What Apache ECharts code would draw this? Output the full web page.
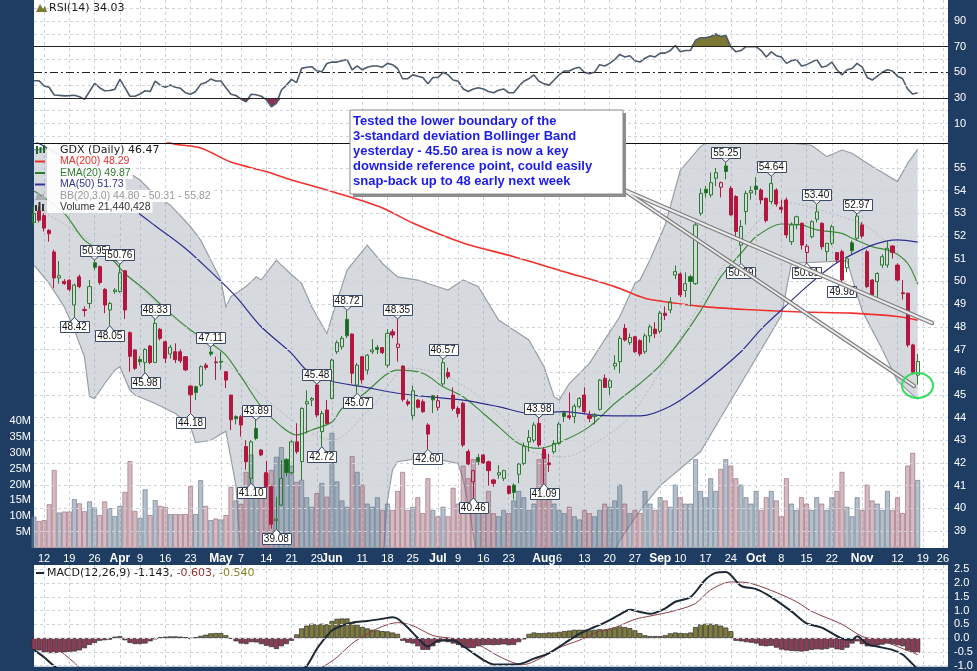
<!DOCTYPE html>
<html><head><meta charset="utf-8">
<script src="https://cdn.jsdelivr.net/npm/echarts@6/dist/echarts.min.js"></script>
<style>html,body{margin:0;padding:0;background:#1f3d63}#c{width:977px;height:671px}</style>
</head><body><div id="c"></div>
<script>
// ---------- categories ----------
const firstDay = '2012-03-08';
const holidays = ['2012-04-06','2012-05-28','2012-07-04','2012-09-03','2012-10-29','2012-10-30','2012-11-22'];
const slotCount = 182;
const tickLabels = [['2012-03-12','12'],['2012-03-19','19'],['2012-03-26','26'],['2012-04-02','Apr'],['2012-04-09','9'],['2012-04-16','16'],['2012-04-23','23'],['2012-05-01','May'],['2012-05-07','7'],['2012-05-14','14'],['2012-05-21','21'],['2012-05-29','29'],['2012-06-01','Jun'],['2012-06-11','11'],['2012-06-18','18'],['2012-06-25','25'],['2012-07-02','Jul'],['2012-07-09','9'],['2012-07-16','16'],['2012-07-23','23'],['2012-08-01','Aug'],['2012-08-06','6'],['2012-08-13','13'],['2012-08-20','20'],['2012-08-27','27'],['2012-09-04','Sep'],['2012-09-10','10'],['2012-09-17','17'],['2012-09-24','24'],['2012-10-01','Oct'],['2012-10-08','8'],['2012-10-15','15'],['2012-10-22','22'],['2012-11-01','Nov'],['2012-11-12','12'],['2012-11-19','19'],['2012-11-26','26']];
const monthNames = ['Apr','May','Jun','Jul','Aug','Sep','Oct','Nov'];

// ---------- price data (GDX daily) ----------
const opens = [52.6,53.1,52.9,52.25,51.3,50.15,50.0,50.05,48.96,50.2,
48.76,49.03,50.82,50.65,49.65,48.74,49.55,49.55,50.47,47.74,
46.98,46.56,46.43,47.15,46.43,47.89,47.34,46.8,46.9,46.9,
46.68,45.39,45.36,45.43,46.31,46.89,46.45,46.47,46.02,44.99,
44.04,44.04,42.72,41.32,43.52,42.57,41.57,40.95,39.45,40.14,
42.16,41.57,42.93,42.06,44.6,44.77,45.43,43.38,44.33,44.84,
46.9,47.12,48.33,47.68,45.43,46.68,46.09,46.9,47.09,47.08,
46.31,47.78,47.09,46.27,44.7,44.08,44.77,44.7,43.67,44.96,
44.45,45.48,45.98,44.99,44.4,44.63,42.5,41.17,42.24,42.35,
42.05,41.25,41.47,41.32,40.98,41.02,41.5,41.98,42.93,43.0,
43.74,42.6,42.0,42.49,42.86,44.21,44.08,44.04,44.48,44.99,
44.08,44.04,44.36,45.73,45.33,46.27,46.46,47.93,47.3,47.56,
47.39,46.9,47.6,47.9,47.8,48.6,48.74,50.28,50.33,49.6,
50.21,49.9,53.0,54.06,53.81,54.55,54.15,55.09,54.1,53.74,
51.6,53.08,53.9,54.2,54.03,53.66,53.52,54.03,53.27,53.59,
51.75,52.49,52.56,51.27,51.97,52.74,52.56,51.31,51.68,51.27,
51.31,50.6,51.7,51.9,52.49,51.31,50.06,49.99,50.72,50.72,
51.56,50.72,49.5,49.48,47.2,45.87];
const closes = [53.0,52.7,52.35,52.1,50.15,50.25,49.9,49.65,49.84,49.77,
48.72,49.77,50.62,49.95,48.96,49.03,49.62,50.38,48.74,46.7,
46.17,46.46,47.0,46.43,48.15,47.49,46.61,47.1,46.55,46.5,
46.1,45.0,45.1,46.24,46.21,46.8,46.42,46.44,45.65,43.9,
43.95,43.67,42.05,42.93,43.08,42.35,40.95,39.3,39.52,41.32,
41.57,42.93,42.5,44.4,44.7,44.84,44.11,44.18,43.74,46.53,
47.3,47.49,47.6,45.95,46.31,45.66,46.75,46.98,47.0,46.86,
47.71,47.64,47.24,44.8,44.6,45.18,44.45,44.26,43.27,44.78,
44.74,46.42,45.8,44.4,44.18,42.79,41.95,41.66,42.05,42.0,
41.66,41.1,41.57,41.66,40.66,40.7,41.95,42.74,43.12,43.67,
42.79,42.2,41.92,42.86,43.71,44.05,44.0,44.5,44.84,44.26,
43.96,44.14,45.65,45.33,45.62,46.39,47.49,47.42,47.53,46.9,
46.8,47.6,48.0,47.7,48.6,48.5,49.1,50.43,49.4,49.9,
50.0,52.49,53.88,53.9,54.35,54.79,54.35,54.84,52.93,52.2,
52.42,53.88,54.0,54.05,53.59,52.68,54.32,53.41,53.18,52.05,
52.49,52.85,51.6,51.55,52.63,53.07,51.53,51.68,52.41,50.94,
50.06,51.0,51.35,52.88,52.0,49.77,49.4,50.35,51.09,51.46,
51.27,50.06,49.46,47.2,46.0,46.47];
const highs = [53.3,53.3,53.0,52.3,51.4,50.9,50.1,50.1,49.9,50.3,
48.9,50.06,50.95,50.7,49.7,49.1,49.7,50.76,50.5,47.8,
47.0,46.7,47.05,47.2,48.33,47.95,47.4,47.2,47.27,47.0,
46.7,45.4,45.4,46.3,46.4,47.11,46.68,46.9,46.05,45.0,
44.1,44.1,43.0,43.0,43.89,42.6,42.1,41.0,40.5,42.13,
42.2,43.0,43.74,44.45,45.2,44.9,45.48,44.3,44.77,46.6,
47.4,47.6,48.72,47.7,46.4,46.7,46.8,47.45,47.2,47.1,
47.9,47.9,48.35,46.3,44.8,45.4,44.8,44.8,43.75,45.0,
45.0,46.57,46.2,45.33,44.5,44.7,42.6,41.7,42.4,42.4,
42.1,41.3,41.9,41.7,41.0,41.1,42.0,42.9,43.45,43.8,
43.98,42.7,42.4,43.0,43.8,44.3,45.1,44.6,44.9,45.33,
44.3,44.2,45.7,45.9,45.7,46.75,47.6,48.12,47.7,47.6,
47.45,47.7,48.1,48.2,48.7,48.9,49.3,50.7,50.4,50.4,
50.3,52.6,54.1,54.2,54.8,55.0,54.4,55.25,54.2,53.8,
52.7,54.0,54.2,54.6,54.1,53.7,54.64,54.1,53.6,53.7,
52.6,52.9,52.6,51.65,52.7,53.40,52.6,51.7,52.5,51.3,
51.4,51.1,51.8,52.97,52.6,51.4,50.1,50.4,51.2,51.8,
51.6,50.8,50.06,49.5,47.25,46.8];
const lows = [52.5,52.6,52.2,51.75,49.7,49.9,49.85,49.55,48.42,49.7,
48.45,48.8,50.5,49.85,48.6,48.05,49.45,49.5,48.35,46.02,
46.1,46.3,45.98,46.35,46.4,47.4,46.4,46.6,46.4,46.4,
46.05,44.18,44.77,45.35,46.1,46.7,45.66,46.1,45.3,43.45,
43.7,43.16,41.7,41.10,43.0,42.3,40.9,39.1,39.08,40.1,
41.4,41.5,42.4,41.25,43.3,44.5,44.0,42.72,43.7,44.8,
46.8,47.0,47.5,45.5,45.07,45.5,45.9,46.8,46.8,46.8,
46.2,47.5,46.46,44.7,44.5,43.9,44.4,44.2,42.6,44.2,
44.3,45.4,45.7,44.3,44.0,42.7,41.9,40.46,41.9,41.95,
41.0,40.95,41.3,41.2,40.6,40.4,41.1,41.9,42.5,42.9,
42.7,41.09,41.6,42.4,42.8,43.8,43.9,43.75,44.4,44.2,
43.8,43.7,44.3,45.3,45.0,46.1,45.95,47.35,47.2,46.85,
46.7,46.8,47.3,47.5,47.7,48.3,48.6,50.1,49.3,49.3,
48.9,49.85,52.9,53.7,53.7,54.2,53.7,54.5,52.9,51.9,
50.79,52.5,53.6,53.8,53.4,52.6,53.4,53.3,53.0,51.9,
51.6,52.3,51.4,50.81,51.9,52.6,51.4,50.9,51.6,50.8,
49.98,50.4,51.2,51.8,51.9,49.7,49.3,49.3,50.6,50.6,
51.0,50.0,49.2,47.1,45.9,45.45];
// volume in millions
const volumes = [9.9,8.5,8.8,13.8,24.6,11.2,11.5,11.5,15.4,14.1,
11.6,14.7,12.8,10.4,14.7,12.6,10.1,13.3,17.7,27.4,
11.7,9.5,18.5,10.4,15.1,13.3,13.0,10.7,10.7,10.7,
10.7,19.5,10.7,21.4,13.3,8.8,9.3,9.0,10.4,19.3,
15.0,13.9,24.0,29.5,16.5,16.5,23.5,24.6,28.8,31.8,
24.6,26.0,20.9,21.5,16.0,13.0,17.3,20.5,16.2,36.3,
21.0,15,13,29,24,20,14,13,16,12,
14,12,18,24,12,13,16,11,22,12,
10,13,10,19,14,26,22,28,14,12,
18,11,10,12,11,15,18,16,12,14,
28,30,18,14,12,11,13,10,9,12,
11,10,12,14,13,15,20,14,11,12,
11,18,14,12,16,15,13,20,16,14,
14,28,18,16,22,18,25,28,26,22,
20,16,14,18,12,16,18,15,10,22,
14,12,16,14,12,16,14,12,16,18,
24,13,10,16,12,20,15,14,12,18,
12,16,11,26,30,21.44];

// ---------- overlays (read at sample days: [dayIndex, value]) ----------
const ma200 = [[0,58.3],[27,56.1],[33,55.88],[39,55.26],[46,54.84],[51,54.47],[59,53.96],[69,53.24],[75,52.57],[85,51.69],[95,51.09],[105,50.43],[115,49.77],[120,49.33],[122,49.2],[132,48.9],[142,48.75],[152,48.65],[162,48.6],[171,48.45],[175,48.29]];
const ma50 = [[0,56.2],[10,54.9],[19,53.3],[24,52.45],[30,51.45],[35,50.43],[40,49.33],[45,48.0],[51,46.83],[54,46.09],[59,45.6],[65,45.36],[72,45.07],[78,44.92],[85,44.77],[92,44.48],[98,44.19],[105,44.26],[111,44.11],[120,44.07],[126,44.5],[132,45.4],[140,46.9],[144,47.9],[148,48.74],[153,49.77],[157,50.5],[160,50.95],[166,51.6],[171,51.83],[175,51.73]];
const ema20 = [[0,54.0],[6,53.0],[10,51.82],[15,51.09],[18,50.35],[22,49.62],[27,48.59],[31,47.86],[35,47.27],[38,46.75],[41,45.8],[45,44.48],[49,43.6],[52,43.23],[55,43.45],[59,43.8],[61,44.4],[65,44.99],[72,46.09],[77,45.95],[81,45.36],[85,44.92],[89,44.18],[92,43.6],[96,42.86],[100,42.64],[105,43.0],[110,43.6],[115,44.62],[120,45.5],[124,46.3],[128,47.4],[132,48.7],[136,50.2],[140,51.24],[143,51.97],[148,52.53],[152,52.49],[155,52.27],[160,52.12],[162,51.9],[166,51.53],[170,51.31],[173,50.8],[175,49.87]];
const bbUpper = [[0,55.8],[10,56.0],[16,55.5],[18,54.9],[21,54.47],[24,53.8],[27,53.36],[31,52.41],[33,51.82],[35,50.94],[37,50.06],[38,48.88],[39,49.33],[42,49.77],[44,50.2],[45,50.06],[48,50.94],[50,50.5],[53,49.9],[55,48.88],[58,47.7],[59,48.44],[62,50.5],[66,51.6],[69,50.79],[72,50.2],[76,50.06],[78,49.91],[82,49.62],[85,50.06],[88,49.77],[92,48.3],[95,47.86],[98,47.42],[101,46.24],[103,44.92],[104,44.77],[106,45.5],[110,46.39],[113,47.42],[116,48.44],[119,49.91],[120,50.06],[122,50.95],[125,52.5],[128,54.9],[132,55.94],[136,56.6],[144,56.7],[150,56.09],[154,56.0],[157,55.5],[160,55.79],[162,55.65],[166,55.06],[171,54.4],[173,55.2],[175,55.82]];
const bbLower = [[0,50.72],[3,49.91],[6,48.88],[8,47.86],[10,46.68],[11,44.92],[12,44.84],[14,45.5],[16,46.09],[17,46.24],[19,45.21],[20,44.99],[24,44.62],[28,44.18],[31,43.6],[32,42.9],[35,43.0],[38,43.4],[40,41.0],[41,37.5],[69,37.5],[70,40.36],[71,41.7],[72,42.05],[78,42.27],[84,41.97],[85,41.25],[86,40.2],[88,37.5],[114,37.5],[116,38.6],[120,39.9],[124,41.0],[132,42.5],[140,45.5],[148,48.5],[150,50.8],[161,50.9],[164,48.7],[168,47.0],[171,45.6],[175,44.8]];
const bbMid = [[0,53.3],[11,51.8],[23,49.3],[35,47.0],[45,45.0],[53,43.6],[59,43.0],[67,44.5],[74,46.17],[82,45.8],[92,44.2],[98,42.56],[105,42.27],[111,42.86],[118,44.04],[128,47.5],[136,50.5],[144,52.8],[148,53.5],[160,52.85],[166,52.27],[175,50.31]];

// price call-out labels: [dayIndex, value]
const highLabels = [[12,50.95],[17,50.76],[24,48.33],[35,47.11],[44,43.89],[56,45.48],[62,48.72],[72,48.35],[81,46.57],[100,43.98],[137,55.25],[146,54.64],[155,53.40],[163,52.97]];
const lowLabels = [[8,48.42],[15,48.05],[22,45.98],[31,44.18],[43,41.10],[48,39.08],[57,42.72],[64,45.07],[78,42.60],[87,40.46],[101,41.09],[140,50.79],[153,50.81],[160,49.98]];

// ---------- RSI(14) ----------
const rsi = [43.4,43.4,39.3,38.3,32.3,32.0,31.6,31.8,32.1,31.0,
28.9,35.0,41.4,38.0,35.6,35.8,36.7,44.5,38.0,31.3,
31.3,33.0,35.6,35.0,43.2,40.0,38.3,40.1,38.3,37.5,
34.0,32.9,35.0,40.6,42.0,44.7,43.2,43.2,38.0,32.9,
31.9,29.0,27.0,32.9,32.5,31.3,28.7,23.1,25.7,36.2,
40.0,44.5,42.0,53.1,54.0,54.4,51.2,50.4,56.9,58,
58,59,60,52,55,52,54,55,55,54,
57,56,53,45,45,48,47,46,41,46,
46,50,48,44,43,37,35,37,38,37,
35,34,36,37,34,34,39,43,45,48,
43,41,40,44,48,51,51,53,54,50,
49,50,56,55,57,60,64,62,63,59,
58,61,63,62,65,65,67,71,66,67,
67,75,77,77,78,80,78,79,70,66,
67,70,70,70,67,62,66,63,62,57,
59,60,55,56,58,60,54,55,58,52,
48,52,53,57,54,46,44,47,50,52,
51,47,45,37,33,34.03];

// ---------- MACD(12,26,9) ----------
const macdLine = [[0,-0.43],[2,-0.7],[4,-1.02],[6,-1.25],[15,-1.5],[30,-1.5],[45,-1.7],[50,-1.5],[53,-1.15],[54,-1.02],[56,-0.4],[57,-0.15],[59,0.27],[61,0.45],[63,0.56],[66,0.62],[69,0.7],[71,0.76],[72,0.7],[74,0.38],[76,0.0],[78,-0.31],[80,-0.1],[83,-0.08],[85,-0.3],[87,-0.55],[89,-0.8],[91,-0.96],[96,-0.95],[99,-0.75],[102,-0.55],[105,-0.2],[108,0.15],[111,0.4],[113,0.56],[116,0.85],[118,1.03],[120,0.95],[122,0.88],[125,1.08],[127,1.32],[130,1.49],[133,2.13],[135,2.37],[137,2.4],[140,1.9],[143,1.78],[146,1.49],[150,0.97],[153,0.53],[156,0.38],[160,-0.02],[162,-0.06],[163,0.06],[165,-0.22],[167,-0.31],[170,-0.43],[172,-0.6],[174,-0.95],[175,-1.143]];
const signalLine = [[0,-0.02],[4,-0.32],[8,-0.9],[10,-1.2],[30,-1.5],[50,-1.5],[56,-1.15],[58,-0.96],[60,-0.7],[63,-0.2],[66,0.15],[69,0.42],[72,0.56],[75,0.45],[79,0.09],[83,-0.02],[88,-0.25],[92,-0.66],[95,-0.9],[97,-0.96],[101,-0.67],[104,-0.35],[108,-0.08],[112,0.25],[115,0.38],[119,0.68],[122,0.8],[125,0.91],[128,1.05],[131,1.26],[134,1.75],[138,2.04],[141,2.02],[146,1.73],[151,1.32],[154,0.97],[160,0.5],[164,0.06],[168,-0.1],[171,-0.31],[175,-0.603]];
const histogram = [-0.43,-0.45,-0.52,-0.55,-0.55,-0.54,-0.52,-0.5,-0.49,-0.45,
-0.37,-0.25,-0.18,-0.1,-0.08,-0.06,0.05,0.07,-0.08,-0.18,
-0.22,-0.22,-0.2,-0.12,-0.05,0.03,0.05,0.06,0.06,0.05,
0.03,-0.02,0.02,0.08,0.12,0.17,0.18,0.18,0.1,-0.03,
-0.12,-0.2,-0.22,-0.15,-0.16,-0.22,-0.28,-0.33,-0.4,-0.3,
-0.22,-0.1,0.13,0.35,0.45,0.52,0.5,0.52,0.5,0.62,
0.7,0.71,0.71,0.55,0.48,0.4,0.35,0.3,0.28,0.25,
0.24,0.2,0.15,-0.1,-0.17,-0.2,-0.3,-0.43,-0.43,-0.3,
-0.17,-0.1,-0.15,-0.2,-0.25,-0.35,-0.37,-0.36,-0.3,-0.26,
-0.25,-0.26,-0.25,-0.23,-0.26,-0.25,-0.15,-0.05,0.15,0.2,
0.18,0.18,0.2,0.2,0.22,0.25,0.27,0.3,0.3,0.3,
0.28,0.3,0.32,0.3,0.32,0.38,0.42,0.4,0.36,0.28,
0.18,0.1,0.07,0.07,0.07,0.1,0.17,0.2,0.18,0.17,
0.2,0.4,0.5,0.52,0.52,0.5,0.45,0.38,0.25,-0.1,
-0.12,-0.15,-0.17,-0.2,-0.28,-0.3,-0.28,-0.35,-0.42,-0.45,
-0.47,-0.48,-0.49,-0.47,-0.43,-0.41,-0.42,-0.4,-0.35,-0.41,
-0.43,-0.35,-0.2,-0.12,-0.22,-0.3,-0.31,-0.27,-0.24,-0.2,
-0.22,-0.26,-0.3,-0.45,-0.52,-0.54];

// ---------- build ----------
const dates = [];
{ const d = new Date(firstDay + 'T00:00:00Z');
  while (dates.length < slotCount) {
    const wd = d.getUTCDay(), s = d.toISOString().slice(0,10);
    if (wd !== 0 && wd !== 6 && holidays.indexOf(s) < 0) dates.push(s);
    d.setUTCDate(d.getUTCDate() + 1);
  } }
const tickMap = {}; tickLabels.forEach(t => tickMap[t[0]] = t[1]);
const isTick = (idx, val) => tickMap[val] !== undefined;

const NAVY = '#1f3d63';
const RED = '#b3173f', GREEN = '#2a7a30', GREEN_F = '#1c6526';
const FONT = '"Liberation Sans", Arial, sans-serif';
const VFONT = '"DejaVu Sans", Verdana, sans-serif';
const GRIDC = '#cfd2da';

function candleItem(i) {
  const o = opens[i], c = closes[i], pc = i > 0 ? closes[i-1] : o;
  const up = c >= pc;
  const col = up ? GREEN : RED;
  const fillCol = up ? GREEN_F : RED;
  const hollow = c > o;
  const f = hollow ? 'rgba(255,255,255,0)' : fillCol;
  return { value: [o, c, lows[i], highs[i]],
    itemStyle: { color: f, color0: f, borderColor: col, borderColor0: col, borderWidth: 1 } };
}
const candleData = opens.map((o, i) => candleItem(i));
const volData = volumes.map((v, i) => {
  const down = i > 0 ? closes[i] < closes[i-1] : closes[i] < opens[i];
  return { value: v, itemStyle: down
    ? { color: 'rgba(170,110,128,0.48)', borderColor: 'rgba(140,92,108,0.7)', borderWidth: 0.8 }
    : { color: 'rgba(112,132,154,0.52)', borderColor: 'rgba(96,114,134,0.75)', borderWidth: 0.8 } };
});
const labelData = highLabels.map(p => [p[0], p[1], 1]).concat(lowLabels.map(p => [p[0], p[1], -1]));

const rsiBase70 = rsi.map(() => 70);
const rsiOver = rsi.map(v => Math.max(v, 70) - 70);
const rsiBase30 = rsi.map(v => Math.min(v, 30));
const rsiUnder = rsi.map(v => 30 - Math.min(v, 30));

const histData = histogram.map(v => ({ value: v, itemStyle: { color: v >= 0 ? '#807c3c' : '#8e3a58', borderColor: '#2c2c2c', borderWidth: 0.7 } }));

function hLines(vals, style) {
  return { silent: true, symbol: 'none', label: { show: false }, animation: false,
    data: vals.map(v => ({ yAxis: v, lineStyle: Object.assign({ color: GRIDC, type: [3,3], width: 1 }, style ? style(v) : {}) })) };
}

function lineSeries(name, data, color, width, extra) {
  return Object.assign({ name, type: 'line', xAxisIndex: 1, yAxisIndex: 1, data, smooth: 0.3, symbol: 'none',
    lineStyle: { color, width }, clip: true, silent: true, z: 3 }, extra || {});
}

const xAxisBase = g => ({
  type: 'category', gridIndex: g, data: dates, boundaryGap: false,
  axisLine: { show: false }, axisTick: { show: false },
  axisLabel: g === 1 ? {
    show: true, interval: isTick, color: '#fff', fontSize: 11, fontFamily: FONT, margin: 5,
    formatter: v => { const t = tickMap[v]; return monthNames.indexOf(t) >= 0 ? '{m|' + t + '}' : t; },
    rich: { m: { fontWeight: 'bold', color: '#fff', fontSize: 12, fontFamily: FONT } }
  } : { show: false },
  splitLine: { show: true, interval: isTick, lineStyle: { color: GRIDC, type: [3,3], width: 1 } }
});

const yBase = (g, min, max, pos, vals, fmt, margin) => ({
  type: 'value', gridIndex: g, min, max, position: pos,
  axisLine: { show: false }, axisTick: { show: false }, splitLine: { show: false },
  axisLabel: { customValues: vals, color: '#fff', fontSize: 11, fontFamily: FONT, margin: margin, formatter: fmt }
});

const priceTicks = []; for (let v = 39; v <= 55; v++) priceTicks.push(v);

const chart = echarts.init(document.getElementById('c'), null, { renderer: 'canvas' });

const legendRows = [
  { t: 'GDX (Daily) 46.47', c: '#1a1a1a', y: 150, f: '11px ' + VFONT },
  { t: 'MA(200) 48.29', c: '#e8322c', y: 161.5, f: '10.5px ' + FONT },
  { t: 'EMA(20) 49.87', c: '#2f7a2f', y: 173, f: '10.5px ' + FONT },
  { t: 'MA(50) 51.73', c: '#35359a', y: 184.5, f: '10.5px ' + FONT },
  { t: 'BB(20,3.0) 44.80 - 50.31 - 55.82', c: '#9a9a9a', y: 196, f: '10.5px ' + FONT },
  { t: 'Volume 21,440,428', c: '#333', y: 207, f: '10.5px ' + FONT }
];
const noteLines = ['Tested the lower boundary of the','3-standard deviation Bollinger Band','yesterday - 45.50 area is now a key','downside reference point, could easily','snap-back up to 48 early next week'];

const graphics = [];
graphics.push({ type: 'line', shape: { x1: 34, y1: 143.5, x2: 948, y2: 143.5 }, style: { stroke: '#111', lineWidth: 1 }, z: 50, silent: true });
// RSI title
graphics.push({ type: 'polygon', shape: { points: [[36,12],[40,4],[43,9],[45,6],[47,12]] }, style: { fill: '#7a7a30' }, z: 100 });
graphics.push({ type: 'text', x: 49, y: 8, style: { text: 'RSI(14) 34.03', font: '11px ' + VFONT, fill: '#1a1a1a', verticalAlign: 'middle', textVerticalAlign: 'middle' }, z: 100 });
// main legend
legendRows.forEach((r, k) => {
  graphics.push({ type: 'text', x: 47, y: r.y, style: { text: r.t, font: r.f, fill: r.c, verticalAlign: 'middle', textVerticalAlign: 'middle', backgroundColor: 'rgba(255,255,255,0.92)', padding: [1,2,0,13] }, z: 100 });
});
graphics.push({ type: 'rect', shape: { x: 36, y: 146, width: 2, height: 8 }, style: { fill: '#1c6526' }, z: 101 });
graphics.push({ type: 'rect', shape: { x: 39.5, y: 147, width: 2, height: 6 }, style: { fill: '#1c6526' }, z: 101 });
graphics.push({ type: 'rect', shape: { x: 43, y: 145, width: 2, height: 8 }, style: { fill: '#1c6526' }, z: 101 });
[['#e8322c',161.5],['#2f7a2f',173],['#35359a',184.5]].forEach(a => graphics.push({ type: 'line', shape: { x1: 35, y1: a[1], x2: 45, y2: a[1] }, style: { stroke: a[0], lineWidth: 2 }, z: 101 }));
graphics.push({ type: 'polygon', shape: { points: [[35,200],[38,192],[41,197],[43,193],[46,200]] }, style: { fill: '#a8adb3' }, z: 101 });
graphics.push({ type: 'rect', shape: { x: 35, y: 205, width: 2, height: 6 }, style: { fill: '#333' }, z: 101 });
graphics.push({ type: 'rect', shape: { x: 38.5, y: 202, width: 2, height: 9 }, style: { fill: '#333' }, z: 101 });
graphics.push({ type: 'rect', shape: { x: 42, y: 204, width: 2, height: 7 }, style: { fill: '#333' }, z: 101 });
// MACD title
graphics.push({ type: 'line', shape: { x1: 36, y1: 573, x2: 44, y2: 573 }, style: { stroke: '#1c2833', lineWidth: 2 }, z: 100 });
graphics.push({ type: 'text', x: 47, y: 573, style: { text: '{a|MACD(12,26,9) -1.143,}{b| -0.603,}{c| -0.540}', font: '11px ' + VFONT, verticalAlign: 'middle', textVerticalAlign: 'middle',
  rich: { a: { fill: '#1a1a1a', font: '11px ' + VFONT }, b: { fill: '#8b3a3a', font: '11px ' + VFONT }, c: { fill: '#8a8628', font: '11px ' + VFONT } } }, z: 100 });
// callout pointer lines
[[622,189,932,323],[622,189,914,386]].forEach(l => {
  graphics.push({ type: 'line', shape: { x1: l[0], y1: l[1], x2: l[2], y2: l[3] }, style: { stroke: '#7d7d7d', lineWidth: 4.5, lineCap: 'round' }, z: 110, silent: true });
  graphics.push({ type: 'line', shape: { x1: l[0], y1: l[1], x2: l[2], y2: l[3] }, style: { stroke: '#ececec', lineWidth: 2, lineCap: 'round' }, z: 111, silent: true });
});
// note box
graphics.push({ type: 'rect', shape: { x: 353, y: 113, width: 273, height: 84 }, style: { fill: '#8e8e8e' }, z: 112 });
graphics.push({ type: 'rect', shape: { x: 350, y: 110, width: 273, height: 84 }, style: { fill: '#fff', stroke: '#888', lineWidth: 1 }, z: 113 });
noteLines.forEach((t, k) => graphics.push({ type: 'text', x: 353, y: 121.5 + k * 15, style: { text: t, font: 'bold 13px ' + FONT, fill: '#1c1ce6', verticalAlign: 'middle', textVerticalAlign: 'middle' }, z: 114 }));
// highlight circle
graphics.push({ type: 'ellipse', shape: { cx: 917.5, cy: 385.5, rx: 15.5, ry: 12.5 }, style: { stroke: '#2fe05a', lineWidth: 2, fill: null }, z: 115, silent: true });

const option = {
  backgroundColor: NAVY,
  animation: false,
  grid: [
    { left: 34, right: 29, top: 0, height: 143, show: true, backgroundColor: '#fff', borderWidth: 0 },
    { left: 34, right: 29, top: 143, height: 405, show: true, backgroundColor: '#fff', borderWidth: 0 },
    { left: 34, right: 29, top: 565, height: 106, show: true, backgroundColor: '#fff', borderWidth: 0 }
  ],
  xAxis: [xAxisBase(0), xAxisBase(1), xAxisBase(2)],
  yAxis: [
    yBase(0, -5.2, 106.5, 'right', [10,30,50,70,90], v => String(v), 6),
    yBase(1, 38.25, 56.10, 'right', priceTicks, v => String(v), 6),
    yBase(1, 0, 127.7, 'left', [5,10,15,20,25,30,35,40], v => v + 'M', 3),
    yBase(2, -1.049, 2.657, 'right', [-1,-0.5,0,0.5,1,1.5,2,2.5], v => v.toFixed(1), 6)
  ],
  series: [
    { type: 'custom', xAxisIndex: 1, yAxisIndex: 1, data: [[0, 45]], silent: true, z: 1,
      renderItem: (params, api) => {
        const cs = params.coordSys;
        const up = bbUpper.map(p => api.coord(p));
        const lo = bbLower.map(p => api.coord(p));
        return { type: 'group', clipPath: { type: 'rect', shape: { x: cs.x, y: cs.y, width: cs.width, height: cs.height } },
          children: [
            { type: 'polygon', shape: { points: up.concat(lo.slice().reverse()) }, style: { fill: 'rgba(140,152,165,0.36)' } },
            { type: 'polyline', shape: { points: up }, style: { stroke: '#979ea6', lineWidth: 1.2, fill: null } },
            { type: 'polyline', shape: { points: lo }, style: { stroke: '#979ea6', lineWidth: 1.2, fill: null } }
          ] };
      } },
    { name: 'Volume', type: 'bar', xAxisIndex: 1, yAxisIndex: 2, data: volData, barWidth: 5, silent: true, z: 2 },
    lineSeries('BBmid', bbMid, '#b7b9bd', 1, { lineStyle: { color: '#b4b7bc', width: 1, type: [2,2] },
      markLine: hLines(priceTicks) }),
    lineSeries('MA200', ma200, '#f0302c', 1.6),
    lineSeries('EMA20', ema20, '#3d8a3a', 1.2),
    lineSeries('MA50', ma50, '#2e2e90', 1.2),
    { name: 'GDX', type: 'candlestick', xAxisIndex: 1, yAxisIndex: 1, data: candleData, barWidth: 3.6, silent: true, z: 5 },
    { type: 'custom', xAxisIndex: 1, yAxisIndex: 1, data: labelData, silent: true, z: 6, encode: { x: 0, y: 1 },
      renderItem: (params, api) => {
        const i = api.value(0), v = api.value(1), dir = api.value(2);
        const p = api.coord([i, v]);
        const w = 29, h = 11, ph = 4;
        const baseY = dir > 0 ? p[1] - ph : p[1] + ph;
        const boxY = dir > 0 ? baseY - h : baseY;
        return { type: 'group', children: [
          { type: 'rect', shape: { x: Math.round(p[0] - w/2) + 0.5, y: Math.round(boxY) + 0.5, width: w, height: h }, style: { fill: '#fff', stroke: '#3b4866', lineWidth: 1 } },
          { type: 'polygon', shape: { points: [[p[0]-4, Math.round(baseY) + 0.5], [p[0]+4, Math.round(baseY) + 0.5], [p[0], p[1]]] }, style: { fill: '#fff', stroke: '#3b4866', lineWidth: 1 } },
          { type: 'rect', shape: { x: p[0]-3, y: Math.round(baseY) - 0.5 + (dir > 0 ? -1 : 0.5), width: 6, height: 2 }, style: { fill: '#fff' } },
          { type: 'text', x: p[0], y: Math.round(boxY) + h/2 + 1, style: { text: v.toFixed(2), font: '10px ' + FONT, fill: '#111', align: 'center', verticalAlign: 'middle', textAlign: 'center', textVerticalAlign: 'middle' } }
        ] };
      } },
    // RSI panel
    { type: 'line', xAxisIndex: 0, yAxisIndex: 0, data: rsiBase70, stack: 'hi', symbol: 'none', lineStyle: { opacity: 0 }, silent: true, z: 1 },
    { type: 'line', xAxisIndex: 0, yAxisIndex: 0, data: rsiOver, stack: 'hi', symbol: 'none', lineStyle: { opacity: 0 }, areaStyle: { color: '#7a7832', opacity: 1 }, silent: true, z: 1 },
    { type: 'line', xAxisIndex: 0, yAxisIndex: 0, data: rsiBase30, stack: 'lo', symbol: 'none', lineStyle: { opacity: 0 }, silent: true, z: 1 },
    { type: 'line', xAxisIndex: 0, yAxisIndex: 0, data: rsiUnder, stack: 'lo', symbol: 'none', lineStyle: { opacity: 0 }, areaStyle: { color: '#8b3458', opacity: 1 }, silent: true, z: 1 },
    { name: 'RSI', type: 'line', xAxisIndex: 0, yAxisIndex: 0, data: rsi, symbol: 'none', silent: true, z: 4,
      lineStyle: { color: '#4d5b6b', width: 1.6 },
      markLine: hLines([0,10,20,30,40,50,60,70,80,90,100], v => v === 70 || v === 30 ? { color: '#222', type: 'solid', width: 1 } : v === 50 ? { color: '#222', type: [8,3,2,3], width: 1 } : {}) },
    // MACD panel
    { name: 'Hist', type: 'bar', xAxisIndex: 2, yAxisIndex: 3, data: histData, barWidth: 5, silent: true, z: 2 },
    { name: 'Signal', type: 'line', xAxisIndex: 2, yAxisIndex: 3, data: signalLine, smooth: 0.3, symbol: 'none', clip: true, silent: true, z: 3,
      lineStyle: { color: '#8b3c40', width: 1 }, markLine: hLines([-1,-0.5,0,0.5,1,1.5,2,2.5]) },
    { name: 'MACD', type: 'line', xAxisIndex: 2, yAxisIndex: 3, data: macdLine, smooth: 0.3, symbol: 'none', clip: true, silent: true, z: 4,
      lineStyle: { color: '#1c2833', width: 2 } }
  ],
  graphic: graphics
};
chart.setOption(option);
</script>
</body></html>
